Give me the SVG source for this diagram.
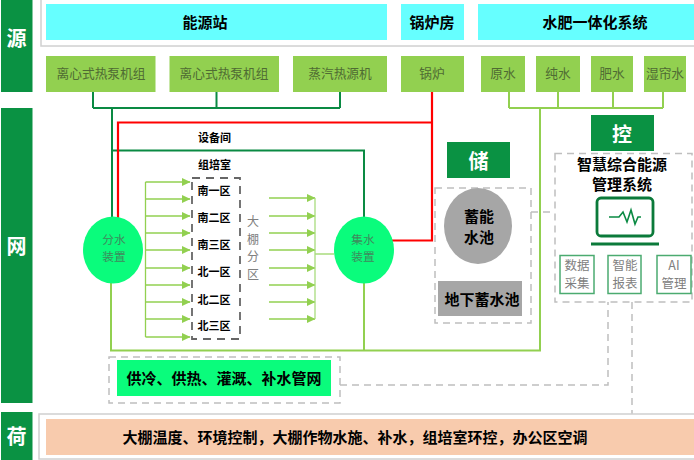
<svg xmlns="http://www.w3.org/2000/svg" width="694" height="460" viewBox="0 0 694 460">
<style>
text{font-family:"Noto Sans CJK SC","Noto Sans CJK JP",sans-serif;text-anchor:middle;dominant-baseline:central}
.side{fill:#0a9243}
.sidet{fill:#fff;font-size:20px;font-weight:700}
.cy{fill:#66ffff}
.gn{fill:#92d050}
.gt{fill:#4f6b33;font-size:12.700px}
.bt{fill:#000;font-size:15px;font-weight:700}
.z{fill:#000;font-size:11px;font-weight:700}
.dash{fill:none;stroke:#bfbfbf;stroke-width:1.500;stroke-dasharray:7 5}
.dg{stroke:#0a8a43;stroke-width:2;fill:none}
.lg{stroke:#92d050;stroke-width:2;fill:none}
.rd{stroke:#ff0000;stroke-width:2.200;fill:none}
.ar line{stroke:#92d050;stroke-width:1.300;marker-end:url(#a)}
.ln{stroke:#a9dc7e;stroke-width:1.300;fill:none}
.sm{fill:#fff;stroke:#4bab70;stroke-width:1.500}
.smt{fill:#808080;font-size:12.500px}
.eq{fill:#3f8a5c;font-size:11.700px}
.vt{fill:#808080;font-size:12px}
</style>
<defs><marker id="a" markerUnits="userSpaceOnUse" markerWidth="9" markerHeight="8" refX="8" refY="4" orient="auto"><path d="M0 0L8.500 4L0 8z" fill="#92d050"/></marker></defs>
<rect width="694" height="460" fill="#fff"/>
<g id="connectors">
<path class="dg" d="M93 92V108M216.500 92V108M340 92V108M93 108H340M112 108V218M112 150.500H364V218"/>
<path class="rd" d="M118 218V122.500H432M432 91V240.500H390"/>
<path class="lg" d="M509 92V108M558 92V108M613 92V108M663 92V108M509 108H663M540 108V350.500H111V283M364 283V350.500"/>
<path class="dash" d="M531 212H555M340 385H608V302M632 302V414"/>
<g class="ar">
<line x1="145.500" y1="182" x2="190" y2="182"/><line x1="145.500" y1="199" x2="190" y2="199"/><line x1="145.500" y1="216" x2="190" y2="216"/><line x1="145.500" y1="233" x2="190" y2="233"/><line x1="145.500" y1="250" x2="190" y2="250"/><line x1="145.500" y1="268" x2="190" y2="268"/><line x1="145.500" y1="285" x2="190" y2="285"/><line x1="145.500" y1="302" x2="190" y2="302"/><line x1="145.500" y1="319" x2="190" y2="319"/><line x1="145.500" y1="337" x2="190" y2="337"/>
</g>
<path class="ln" d="M145.500 182V337" style="stroke:#92d050"/>
<g class="ar">
<line x1="269" y1="198" x2="315" y2="198"/><line x1="269" y1="216" x2="315" y2="216"/><line x1="269" y1="233" x2="315" y2="233"/><line x1="269" y1="250" x2="315" y2="250"/><line x1="269" y1="268" x2="315" y2="268"/><line x1="269" y1="285" x2="315" y2="285"/><line x1="269" y1="302" x2="315" y2="302"/><line x1="269" y1="319" x2="315" y2="319"/>
</g>
<path class="ln" d="M315 198V319M315 254H334"/>
</g>
<g id="side-source"><rect class="side" x="1" y="0" width="31.500" height="92"/><text class="sidet" x="16.500" y="37">源</text></g>
<g id="side-net"><rect class="side" x="1" y="108" width="31.500" height="295"/><text class="sidet" x="16.500" y="245">网</text></g>
<g id="side-load"><rect class="side" x="1" y="412" width="31.500" height="48"/><text class="sidet" x="16.500" y="435">荷</text></g>
<rect x="41" y="-3" width="660" height="49" fill="none" stroke="#d0d0d0" stroke-width="1.500"/>
<g id="energy-station"><rect class="cy" x="46" y="4" width="341" height="36"/><text class="bt" x="205" y="21">能源站</text></g>
<g id="boiler-room"><rect class="cy" x="401" y="4" width="63" height="36"/><text class="bt" x="432" y="21">锅炉房</text></g>
<g id="fertigation"><rect class="cy" x="478" y="4" width="216" height="36"/><text class="bt" x="595" y="21">水肥一体化系统</text></g>
<g id="hp1"><rect class="gn" x="46" y="56" width="109.500" height="36"/><text class="gt" x="101" y="72">离心式热泵机组</text></g>
<g id="hp2"><rect class="gn" x="169.500" y="56" width="109.500" height="36"/><text class="gt" x="224" y="72">离心式热泵机组</text></g>
<g id="steam"><rect class="gn" x="293" y="56" width="94" height="36"/><text class="gt" x="340" y="72">蒸汽热源机</text></g>
<g id="boiler"><rect class="gn" x="401" y="56" width="63" height="36"/><text class="gt" x="432" y="72">锅炉</text></g>
<g id="raw"><rect class="gn" x="481" y="56" width="44" height="36"/><text class="gt" x="503" y="72">原水</text></g>
<g id="pure"><rect class="gn" x="536" y="56" width="44" height="36"/><text class="gt" x="558" y="72">纯水</text></g>
<g id="fert"><rect class="gn" x="591" y="56" width="42" height="36"/><text class="gt" x="612" y="72">肥水</text></g>
<g id="wet"><rect class="gn" x="644" y="56" width="42" height="36"/><text class="gt" x="665" y="72">湿帘水</text></g>
<g id="equip"><text class="z" x="214.500" y="136.500">设备间</text></g>
<g id="tissue"><text class="z" x="214.500" y="163.500">组培室</text></g>
<g id="zones"><rect x="192" y="178" width="48" height="161" fill="none" stroke="#666" stroke-width="1.800" stroke-dasharray="8 6"/>
<text class="z" x="214" y="190">南一区</text><text class="z" x="214" y="216.500">南二区</text><text class="z" x="214" y="243.500">南三区</text><text class="z" x="214" y="271">北一区</text><text class="z" x="214" y="299">北二区</text><text class="z" x="214" y="325">北三区</text></g>
<g id="area-label"><text class="vt" x="253" y="220">大</text><text class="vt" x="253" y="238">棚</text><text class="vt" x="253" y="255.500">分</text><text class="vt" x="253" y="273">区</text></g>
<g id="splitter"><ellipse cx="113" cy="250" rx="30" ry="33.500" fill="#0afc7c"/><text class="eq" x="114" y="238">分水</text><text class="eq" x="114" y="255">装置</text></g>
<g id="collector"><ellipse cx="364" cy="250" rx="30" ry="33.500" fill="#0afc7c"/><text class="eq" x="363" y="238.500">集水</text><text class="eq" x="363" y="255.500">装置</text></g>
<g id="store-tag"><rect class="side" x="447" y="142" width="63" height="36"/><text class="sidet" x="478.500" y="160">储</text></g>
<g id="storage"><rect class="dash" x="435" y="188" width="96" height="135"/><ellipse cx="478" cy="226" rx="34" ry="38" fill="#a6a6a6"/><text class="bt" x="479" y="215">蓄能</text><text class="bt" x="479" y="236">水池</text><rect x="438" y="281" width="84" height="35" fill="#a6a6a6"/><text class="bt" x="482" y="298">地下蓄水池</text></g>
<g id="control-tag"><rect class="side" x="591" y="115" width="63" height="36"/><text class="sidet" x="622" y="133">控</text></g>
<g id="ems"><rect class="dash" x="555" y="153.500" width="137" height="148.500"/><text class="bt" x="622" y="163">智慧综合能源</text><text class="bt" x="622" y="183">管理系统</text>
<rect x="597" y="198" width="56" height="38" rx="4" fill="#fff" stroke="#0b7a3a" stroke-width="2.800"/><path d="M591 244H659" stroke="#0b7a3a" stroke-width="2.800" fill="none"/><path d="M609 217H619L623 212L627 222L631 210L635 224L638 217H641" stroke="#0a8a43" stroke-width="1.600" fill="none"/></g>
<g id="data"><rect class="sm" x="560" y="255.500" width="34" height="38"/><text class="smt" x="577" y="264">数据</text><text class="smt" x="577" y="282">采集</text></g>
<g id="report"><rect class="sm" x="608" y="255.500" width="33" height="38"/><text class="smt" x="625" y="264">智能</text><text class="smt" x="625" y="282">报表</text></g>
<g id="ai"><rect class="sm" x="657" y="255.500" width="34" height="38"/><text class="smt" x="674" y="264">AI</text><text class="smt" x="674" y="282">管理</text></g>
<g id="pipe-net"><rect class="dash" x="109" y="357" width="231" height="46"/><rect x="117" y="360" width="214" height="36" fill="#0afc7c"/><text class="bt" x="224" y="377">供冷、供热、灌溉、补水管网</text></g>
<g id="load"><rect x="39" y="414" width="662" height="45" fill="none" stroke="#d0d0d0" stroke-width="1.500"/><rect x="46" y="419" width="648" height="36" fill="#f8cbad"/><text class="bt" x="355" y="436">大棚温度、环境控制，大棚作物水施、补水，组培室环控，办公区空调</text></g>
</svg>
